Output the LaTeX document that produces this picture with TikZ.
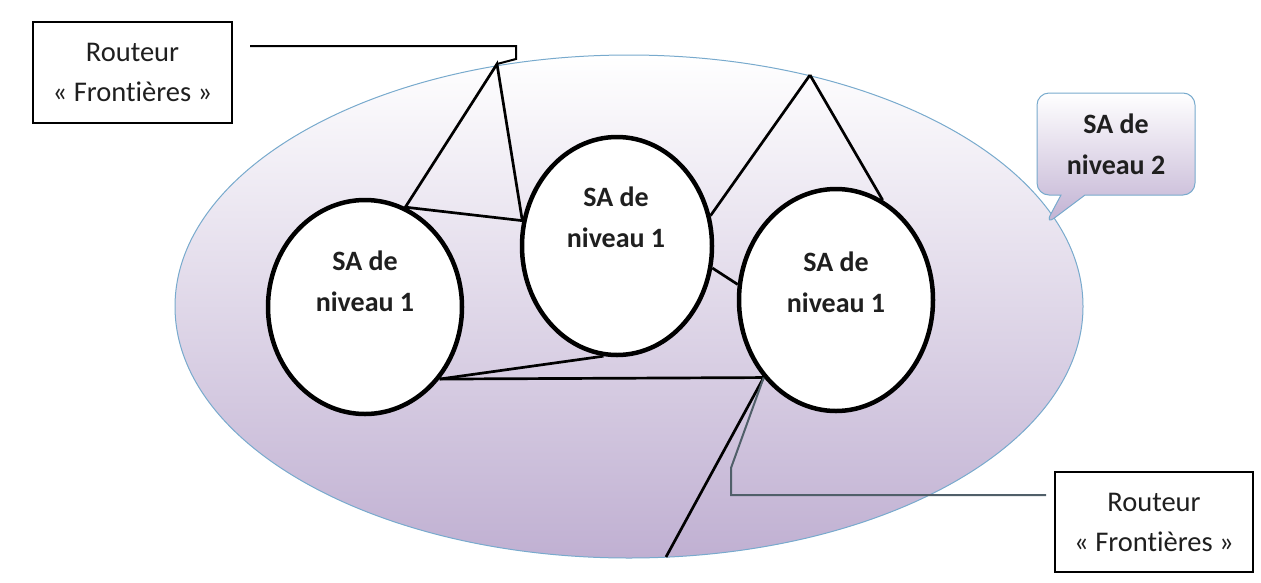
\documentclass[tikz,border=0pt]{standalone}
\usepackage{fontspec}
\setmainfont{Carlito}[Ligatures={NoCommon}]
\usetikzlibrary{shapes.geometric,shapes.callouts}
\definecolor{lav}{RGB}{192,176,210}
\definecolor{edgeblue}{RGB}{120,170,205}
\definecolor{leadgray}{RGB}{80,95,105}
\begin{document}
\begin{tikzpicture}[x=1pt,y=-1pt,
  sa/.style={draw=black,line width=4.5pt,ellipse,fill=white,inner sep=0pt},
  lbl/.style={font=\fontsize{28}{41}\selectfont\bfseries,align=center,text=black!88},
  link/.style={draw=black,line width=2.7pt},
  leader/.style={draw=black,line width=2pt},
  router/.style={draw=black,line width=2.2pt,fill=white,align=center,
    font=\fontsize{28.5}{40}\selectfont,text=black!88,inner sep=0pt}]
\useasboundingbox (0,0) rectangle (1261,582);
% level-2 AS
\node[ellipse,draw=edgeblue,line width=1pt,top color=white,bottom color=lav,
  minimum width=908pt,minimum height=503pt,inner sep=0pt] (SA2) at (629,306.5) {};
% level-1 AS
\node[sa,minimum width=194pt,minimum height=214pt] (L) at (365,307) {};
\node[sa,minimum width=190pt,minimum height=218pt] (M) at (617,246) {};
\node[sa,minimum width=194pt,minimum height=222pt] (R) at (836,300) {};
\node[lbl] (tL) at (365,281) {SA de\\niveau 1};
\node[lbl] (tM) at (616,217) {SA de\\niveau 1};
\node[lbl] (tR) at (836,282) {SA de\\niveau 1};
% points
\coordinate (A1) at (497,64);
\coordinate (A2) at (810,75);
\coordinate (B) at (666,557);
% links
\draw[link] (A1) -- (L.68) -- (M.165) -- cycle;
\draw[link] (A2) -- (M.18);
\draw[link] (A2) -- (R.65);
\draw[link] (M.-13) -- (R.171);
\draw[link] (L.-44) -- (M.-97);
\draw[link] (L.-44) -- (R.-133) -- (B);
% routers
\node[router,minimum width=199pt,minimum height=101pt] (RT1) at (132.5,72.5) {Routeur\\« Frontières »};
\node[router,minimum width=198pt,minimum height=100pt] (RT2) at (1154,522) {Routeur\\« Frontières »};
\coordinate (k1) at (250,46);
\coordinate (k2) at (516,46);
\coordinate (k3) at (516,59);
\draw[leader] (k1) -- (k2) -- (k3) -- (A1);
\coordinate (k4) at (1046,495);
\coordinate (k5) at (731,495);
\coordinate (k6) at (731,468);
\draw[leader,draw=leadgray] (k4) -- (k5) -- (k6) -- (R.-133);
% callout
\node[rectangle callout,rounded corners=12pt,draw=edgeblue,line width=1pt,
  top color=white,bottom color=lav,minimum width=158pt,minimum height=102pt,
  callout absolute pointer={(1045,225)},callout pointer width=24pt,lbl,inner sep=0pt]
  (C) at (1116,144) {SA de\\niveau 2};
\end{tikzpicture}
\end{document}
